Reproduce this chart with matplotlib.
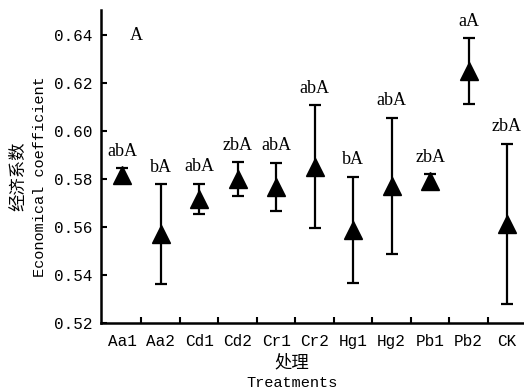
import matplotlib
matplotlib.use("Agg")
import matplotlib.pyplot as plt
from matplotlib.ticker import FixedLocator

# data
treatments = ["Aa1", "Aa2", "Cd1", "Cd2", "Cr1", "Cr2", "Hg1", "Hg2", "Pb1", "Pb2", "CK"]
means = [0.5815, 0.5570, 0.5718, 0.5800, 0.5768, 0.5852, 0.5588, 0.5772, 0.5790, 0.6250, 0.5612]
errors = [0.0030, 0.0208, 0.0063, 0.0070, 0.0100, 0.0255, 0.0222, 0.0284, 0.0030, 0.0136, 0.0335]
letters = ["abA", "bA", "abA", "zbA", "abA", "abA", "bA", "abA", "zbA", "aA", "zbA"]

mono = ["Liberation Mono", "Noto Sans CJK SC"]
serif = ["Liberation Serif", "Noto Sans CJK SC"]
cjk = ["Noto Sans CJK SC"]

fig = plt.figure(figsize=(5.24, 3.91), dpi=100)
ax = fig.add_axes([0.193, 0.174, 0.807, 0.800])

x = list(range(len(treatments)))
ax.errorbar(x, means, yerr=errors, fmt="^", color="black", ms=13,
            elinewidth=1.6, capsize=4, capthick=1.6)

for xi, m, e, lab in zip(x, means, errors, letters):
    ax.annotate(lab, (xi, m + e), xytext=(0, 6), textcoords="offset points",
                ha="center", va="bottom", fontsize=13, family=serif)
ax.text(0.37, 0.64, "A", ha="center", va="center", fontsize=13, family=serif)

ax.set_xlim(-0.545, 10.44)
ax.set_ylim(0.52, 0.6504)
ax.set_yticks([0.52, 0.54, 0.56, 0.58, 0.60, 0.62, 0.64])
ax.set_yticklabels(["0.52", "0.54", "0.56", "0.58", "0.60", "0.62", "0.64"], family=mono, fontsize=11.5)
ax.set_xticks(x)
ax.set_xticklabels(treatments, family=mono, fontsize=11.5)
ax.xaxis.set_minor_locator(FixedLocator([i + 0.5 for i in range(10)]))
ax.tick_params(axis="x", which="major", length=0, pad=8)
ax.tick_params(axis="x", which="minor", direction="in", length=4, width=1.5)
ax.tick_params(axis="y", direction="in", length=4, width=1.5, pad=6)

for s in ["top", "right"]:
    ax.spines[s].set_visible(False)
for s in ["left", "bottom"]:
    ax.spines[s].set_linewidth(1.8)

# axis titles, Chinese line and English line placed separately
fig.text(18 / 524, 1 - 176 / 391, "经济系数", rotation=90, ha="center", va="center",
         family=cjk, fontsize=12.5)
fig.text(40 / 524, 1 - 177 / 391, "Economical coefficient", rotation=90, ha="center",
         va="center", family=mono, fontsize=11)
fig.text(292 / 524, 1 - 362 / 391, "处理", ha="center", va="center", family=cjk, fontsize=12.5)
fig.text(292 / 524, 1 - 383 / 391, "Treatments", ha="center", va="center", family=mono, fontsize=11)

fig.savefig("out.png", dpi=100)
